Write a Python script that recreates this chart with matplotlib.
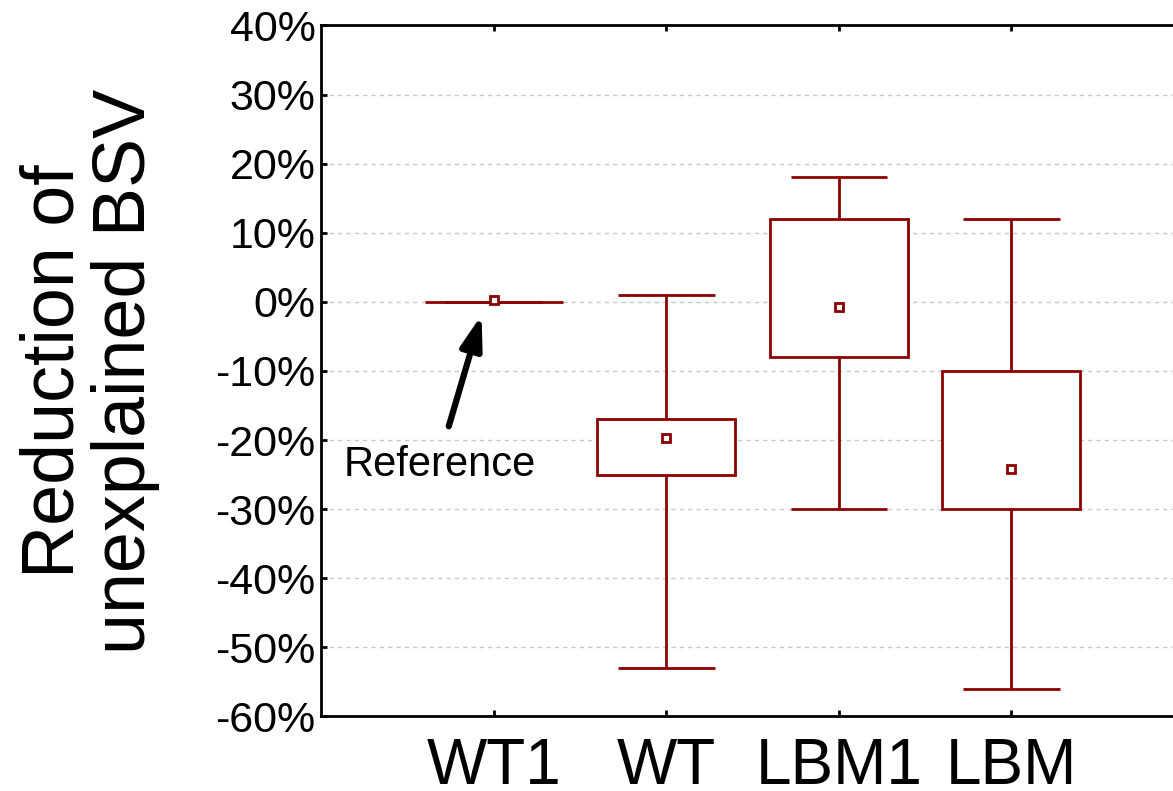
import matplotlib
matplotlib.use("Agg")
import matplotlib.pyplot as plt
from matplotlib.ticker import FuncFormatter

# values, in percent
groups = ['WT1', 'WT', 'LBM1', 'LBM']
whisker_hi = [0, 1, 18, 12]
box_hi = [0, -17, 12, -10]
box_lo = [0, -25, -8, -30]
whisker_lo = [0, -53, -30, -56]
means = [0.3, -19.7, -0.7, -24.2]

red = '#8b0000'
plt.rcParams['font.family'] = ['Liberation Sans', 'DejaVu Sans']

fig = plt.figure(figsize=(11.73, 7.91), dpi=100)
ax = fig.add_axes([0.2737, 0.0942, 0.7357, 0.8736])

pos = list(range(1, len(groups) + 1))
heights = [h - l for h, l in zip(box_hi, box_lo)]

lw = 2.0
ax.vlines(pos, whisker_lo, whisker_hi, color=red, lw=lw, zorder=2)
cap_w = 0.28
ax.hlines(whisker_hi, [p - cap_w for p in pos], [p + cap_w for p in pos], color=red, lw=lw, zorder=2)
ax.hlines(whisker_lo, [p - cap_w for p in pos], [p + cap_w for p in pos], color=red, lw=lw, zorder=2)
ax.bar(pos, heights, bottom=box_lo, width=0.8, facecolor='white', edgecolor=red, lw=lw, zorder=3)
ax.plot(pos, means, ls='none', marker='s', ms=6, mfc='white', mec=red, mew=2, zorder=4)

ax.set_xlim(0, 5)
ax.set_ylim(-60, 40)
ax.set_yticks(range(-60, 41, 10))
ax.yaxis.set_major_formatter(FuncFormatter(lambda v, p: '%d%%' % v))
ax.set_xticks(pos)
ax.set_xticklabels(groups, fontsize=46)
ax.tick_params(axis='y', labelsize=31, direction='in', length=4.5, width=2, pad=4)
ax.tick_params(axis='x', direction='in', length=4.5, width=2, top=True, pad=15)
ax.yaxis.grid(True, ls=(0, (3, 3)), color='#c8c8c8', lw=1)
ax.set_axisbelow(True)
for s in ['left', 'bottom', 'top']:
    ax.spines[s].set_linewidth(2.0)
ax.spines['right'].set_visible(False)

fig.text(0.0767, 0.531, 'Reduction of\nunexplained BSV', rotation=90,
         ha='center', va='center', fontsize=53, linespacing=1.05)

# arrow pointing at the reference model
ax.annotate('', xy=(0.93, -1.9), xytext=(0.74, -18.0),
            arrowprops=dict(arrowstyle='-|>,head_length=2.0,head_width=0.65',
                            color='black', lw=4.5, shrinkA=0, shrinkB=0))
ax.text(0.69, -23.6, 'Reference', fontsize=30, ha='center', va='center')

fig.savefig('out.png', dpi=100)
